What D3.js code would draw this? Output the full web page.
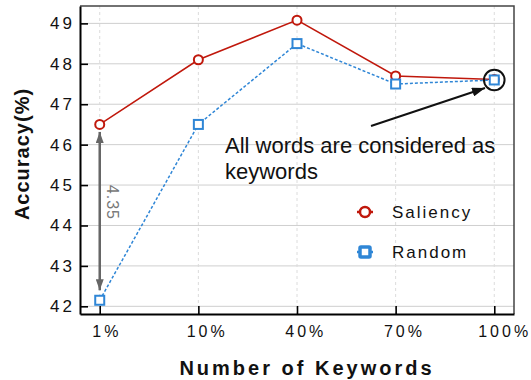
<!DOCTYPE html>
<html>
<head>
<meta charset="utf-8">
<script src="https://cdn.jsdelivr.net/npm/d3@7"></script>
<style>
  html, body { margin: 0; padding: 0; background: #fff; }
  svg { display: block; font-family: "Liberation Sans", Arial, sans-serif; }
</style>
</head>
<body>
<svg id="chart" width="531" height="380"></svg>
<script>
// Keyword ratio categories and accuracy (%) for each keyword-selection method
const categories = ["1%", "10%", "40%", "70%", "100%"];
const saliency = [46.5, 48.1, 49.08, 47.7, 47.61];
const random = [42.15, 46.5, 48.5, 47.5, 47.6];
const yTicks = [42, 43, 44, 45, 46, 47, 48, 49];
const seriesNames = ["Saliency", "Random"];
const gapLabel = "4.35";
const noteLines = ["All words are considered as", "keywords"];

const svg = d3.select("#chart");
const plot = { left: 80, right: 514, top: 6, bottom: 314 };

const x = d3.scalePoint().domain(categories).range([plot.left, plot.right]).padding(0.2);
const y = d3.scaleLinear().domain([41.81, 49.43]).range([plot.bottom, plot.top]);

const red = "#c0180c";
const blue = "#2f86d6";

// grid
svg.append("g").selectAll("line").data(yTicks).join("line")
  .attr("x1", plot.left).attr("x2", plot.right)
  .attr("y1", d => y(d)).attr("y2", d => y(d))
  .attr("stroke", "#cfcfcf").attr("stroke-width", 1);
svg.append("g").selectAll("line").data(categories).join("line")
  .attr("x1", d => x(d)).attr("x2", d => x(d))
  .attr("y1", plot.top).attr("y2", plot.bottom)
  .attr("stroke", "#dcdcdc").attr("stroke-width", 1).attr("stroke-dasharray", "3,3");

// frame (top/right)
svg.append("path")
  .attr("d", `M${plot.left},${plot.top}H${plot.right}V${plot.bottom}`)
  .attr("fill", "none").attr("stroke", "#444").attr("stroke-width", 1.5);

// axes with inward ticks
const yAxis = svg.append("g").attr("transform", `translate(${plot.left},0)`)
  .call(d3.axisLeft(y).tickValues(yTicks).tickSize(-8).tickPadding(8).tickSizeOuter(0));
const xAxis = svg.append("g").attr("transform", `translate(0,${plot.bottom})`)
  .call(d3.axisBottom(x).tickSize(-8).tickPadding(12).tickSizeOuter(0));

[yAxis, xAxis].forEach(g => {
  g.select(".domain").attr("stroke", "#000").attr("stroke-width", 2);
  g.selectAll(".tick line").attr("stroke", "#000").attr("stroke-width", 1.6);
  g.selectAll(".tick text").attr("fill", "#111").attr("font-family", "Liberation Sans, Arial, sans-serif");
});
yAxis.selectAll(".tick text").attr("font-size", 17).attr("letter-spacing", "3px").attr("dx", "3px");
xAxis.selectAll(".tick text").attr("font-size", 16).attr("letter-spacing", "3px")
  .attr("dx", d => `${1.5 + 2 + 1.6 * d.length}px`);

// axis titles
svg.append("text")
  .attr("x", 307).attr("y", 375)
  .attr("text-anchor", "middle")
  .attr("font-size", 20).attr("font-weight", "bold").attr("letter-spacing", "3px")
  .attr("fill", "#111")
  .text("Number of Keywords");
svg.append("text")
  .attr("transform", "translate(29,154) rotate(-90)")
  .attr("text-anchor", "middle")
  .attr("font-size", 20).attr("font-weight", "bold").attr("letter-spacing", "1px")
  .attr("fill", "#111")
  .text("Accuracy(%)");

// lines
const line = d3.line().x((d, i) => x(categories[i])).y(d => y(d));
svg.append("path").datum(saliency).attr("d", line)
  .attr("fill", "none").attr("stroke", red).attr("stroke-width", 1.5);
svg.append("path").datum(random).attr("d", line)
  .attr("fill", "none").attr("stroke", blue).attr("stroke-width", 1.5).attr("stroke-dasharray", "3,2");

// gap arrow between the two methods at 1%
const defs = svg.append("defs");
function marker(id, color, w, h) {
  defs.append("marker").attr("id", id)
    .attr("viewBox", `0 0 ${w} ${h}`).attr("refX", w).attr("refY", h / 2)
    .attr("markerWidth", w).attr("markerHeight", h)
    .attr("markerUnits", "userSpaceOnUse").attr("orient", "auto-start-reverse")
    .append("path").attr("d", `M0,0L${w},${h / 2}L0,${h}Z`).attr("fill", color);
}
marker("gray-head", "#666", 11, 8);
marker("black-head", "#111", 13, 9);

svg.append("line")
  .attr("x1", x(categories[0])).attr("x2", x(categories[0]))
  .attr("y1", y(random[0]) - 10).attr("y2", y(saliency[0]) + 7.5)
  .attr("stroke", "#666").attr("stroke-width", 2.5)
  .attr("marker-start", "url(#gray-head)").attr("marker-end", "url(#gray-head)");
svg.append("text")
  .attr("transform", `translate(${x(categories[0]) + 7},${(y(saliency[0]) + y(random[0])) / 2 - 10}) rotate(90)`)
  .attr("text-anchor", "middle")
  .attr("font-size", 16).attr("letter-spacing", "1px")
  .attr("fill", "#777")
  .text(gapLabel);

// markers
svg.append("g").selectAll("circle").data(saliency).join("circle")
  .attr("cx", (d, i) => x(categories[i])).attr("cy", d => y(d)).attr("r", 4.5)
  .attr("fill", "#fff").attr("stroke", red).attr("stroke-width", 2);
svg.append("g").selectAll("rect").data(random).join("rect")
  .attr("x", (d, i) => x(categories[i]) - 4.5).attr("y", d => y(d) - 4.5)
  .attr("width", 9).attr("height", 9)
  .attr("fill", "#fff").attr("stroke", blue).attr("stroke-width", 2);

// highlight of the all-keywords point with its note
const last = categories.length - 1;
svg.append("circle")
  .attr("cx", x(categories[last])).attr("cy", y(random[last])).attr("r", 10.3)
  .attr("fill", "none").attr("stroke", "#111").attr("stroke-width", 2);
svg.append("line")
  .attr("x1", 371).attr("y1", 126).attr("x2", 485).attr("y2", 88)
  .attr("stroke", "#111").attr("stroke-width", 2)
  .attr("marker-end", "url(#black-head)");
svg.append("text")
  .attr("x", 225).attr("y", 153)
  .attr("font-size", 22).attr("fill", "#111")
  .selectAll("tspan").data(noteLines).join("tspan")
  .attr("x", 225).attr("dy", (d, i) => i === 0 ? 0 : 25.5)
  .text(d => d);

// legend
const legend = svg.append("g");
const legendY = [212, 252];
seriesNames.forEach((name, i) => {
  const g = legend.append("g").attr("transform", `translate(365,${legendY[i]})`);
  const color = i === 0 ? red : blue;
  g.append("line").attr("x1", -8).attr("x2", 8)
    .attr("stroke", color).attr("stroke-width", 2.5);
  if (i === 0) {
    g.append("circle").attr("r", 5).attr("fill", "#fff")
      .attr("stroke", color).attr("stroke-width", 2.5);
  } else {
    g.append("rect").attr("x", -5).attr("y", -5).attr("width", 10).attr("height", 10)
      .attr("rx", 1).attr("fill", "#fff").attr("stroke", color).attr("stroke-width", 3.5);
  }
  g.append("text").attr("x", 27).attr("y", 6)
    .attr("font-size", 17).attr("letter-spacing", "2px").attr("fill", "#111")
    .text(name);
});
</script>
</body>
</html>
